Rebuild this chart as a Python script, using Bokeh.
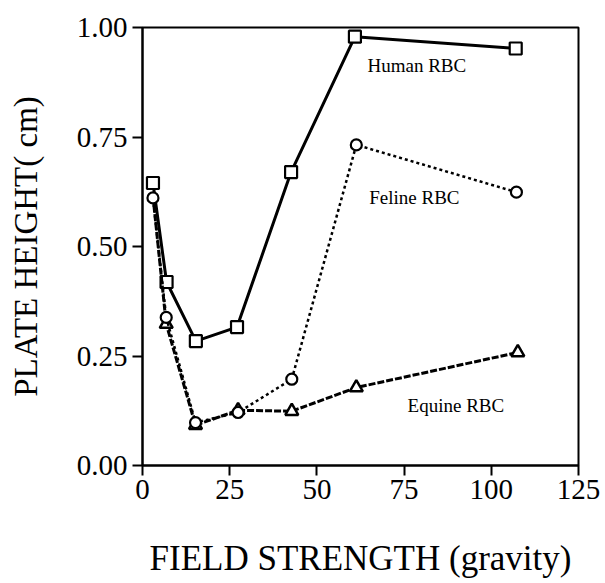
from bokeh.plotting import figure
from bokeh.models import Range1d, Label, FixedTicker, CustomJSTickFormatter
from bokeh.embed import file_html
from bokeh.resources import INLINE

# Plate height versus field strength for three red blood cell types
human_x = [3.0, 6.9, 15.3, 27.1, 42.6, 60.9, 107.0]
human_y = [0.645, 0.419, 0.284, 0.316, 0.670, 0.979, 0.952]

feline_x = [3.0, 6.8, 15.2, 27.4, 42.8, 61.3, 107.2]
feline_y = [0.611, 0.338, 0.098, 0.121, 0.197, 0.732, 0.624]

equine_x = [3.0, 6.8, 15.2, 27.4, 42.8, 61.3, 107.6]
equine_y = [0.615, 0.323, 0.092, 0.126, 0.124, 0.178, 0.258]

x_ticks = [0, 25, 50, 75, 100, 125]
y_ticks = [0.0, 0.25, 0.5, 0.75, 1.0]

FONT = "Liberation Serif"

p = figure(width=605, height=583, output_backend="svg", toolbar_location=None,
           x_range=Range1d(0, 125), y_range=Range1d(0, 1),
           min_border_left=142, min_border_right=27,
           min_border_top=27, min_border_bottom=118)

p.background_fill_color = "white"
p.border_fill_color = "white"
p.xgrid.visible = False
p.ygrid.visible = False
p.outline_line_color = "black"
p.outline_line_width = 2

for ax in (p.xaxis[0], p.yaxis[0]):
    ax.axis_line_width = 2
    ax.axis_line_color = "black"
    ax.major_tick_line_width = 2
    ax.major_tick_line_color = "black"
    ax.major_tick_out = 10
    ax.major_tick_in = 0
    ax.minor_tick_out = 0
    ax.minor_tick_in = 0
    ax.major_label_text_font = FONT
    ax.major_label_text_font_size = "29px"
    ax.major_label_text_color = "black"
    ax.axis_label_text_font = FONT
    ax.axis_label_text_font_style = "normal"
    ax.axis_label_text_color = "black"

p.xaxis[0].ticker = FixedTicker(ticks=x_ticks)
p.yaxis[0].ticker = FixedTicker(ticks=y_ticks)
p.xaxis[0].major_label_standoff = 4
p.yaxis[0].major_label_standoff = 5
p.yaxis[0].formatter = CustomJSTickFormatter(code="return tick.toFixed(2);")

p.xaxis[0].axis_label = "FIELD STRENGTH (gravity)"
p.xaxis[0].axis_label_text_font_size = "35px"
p.xaxis[0].axis_label_standoff = 37
p.yaxis[0].axis_label = "PLATE HEIGHT( cm)"
p.yaxis[0].axis_label_text_font_size = "33px"
p.yaxis[0].axis_label_standoff = 30

# Human RBC: solid line with open squares
p.line(human_x, human_y, line_color="black", line_width=3)
p.scatter(human_x, human_y, marker="square", size=12, fill_color="white",
          line_color="black", line_width=2.2)

# Equine RBC: dashed line with open triangles
p.line(equine_x, equine_y, line_color="black", line_width=3, line_dash="7 2")
p.scatter(equine_x[1:], equine_y[1:], marker="triangle", size=13, fill_color="white",
          line_color="black", line_width=2.5)

# Feline RBC: dotted line with open circles
p.line(feline_x, feline_y, line_color="black", line_width=2.5, line_dash="3 3")
p.scatter(feline_x, feline_y, marker="circle", size=11, fill_color="white",
          line_color="black", line_width=2.2)

# Series names
for txt, x, y in [("Human RBC", 64.5, 0.913),
                  ("Feline RBC", 65.0, 0.613),
                  ("Equine RBC", 76.0, 0.137)]:
    p.add_layout(Label(x=x, y=y, text=txt, text_font=FONT, text_font_size="19px",
                       text_baseline="middle", text_align="left", text_color="black"))

open("out.html", "w").write(file_html(p, INLINE))
